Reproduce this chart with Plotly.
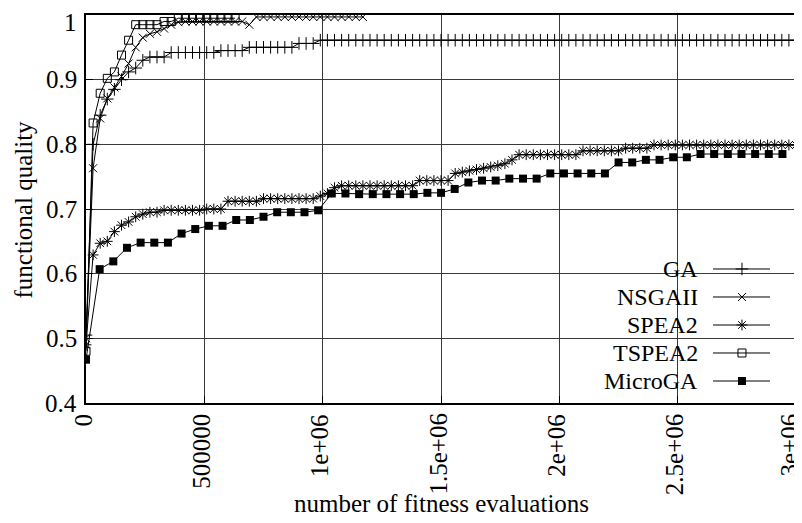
import plotly.graph_objects as go

# ---------------- data ----------------
eval_step = 30000      # sampling interval of GA / NSGAII / SPEA2 / TSPEA2
micro_step = 57700     # sampling interval of MicroGA

ga_y = [0.505, 0.80, 0.845, 0.87, 0.885, 0.90, 0.912, 0.918, 0.93,
        0.935, 0.935, 0.935,
        0.942, 0.942, 0.942, 0.942, 0.942, 0.942, 0.942,
        0.945, 0.945, 0.945, 0.945,
        0.950, 0.950, 0.950, 0.950, 0.950, 0.950, 0.950,
        0.956, 0.956, 0.956,
        0.961, 0.961, 0.961, 0.961, 0.961, 0.961, 0.961, 0.961, 0.961, 0.961,
        0.961, 0.961, 0.961, 0.961, 0.961, 0.961, 0.961, 0.961, 0.961, 0.961,
        0.961, 0.961, 0.961, 0.961, 0.961, 0.961, 0.961, 0.961, 0.961, 0.961,
        0.961, 0.961, 0.961, 0.961, 0.961, 0.961, 0.961, 0.961, 0.961, 0.961,
        0.961, 0.961, 0.961, 0.961, 0.961, 0.961, 0.961, 0.961, 0.961, 0.961,
        0.961, 0.961, 0.961, 0.961, 0.961, 0.961, 0.961, 0.961, 0.961, 0.961,
        0.961, 0.961, 0.961, 0.961, 0.961, 0.961, 0.961, 0.961]

nsga_y = [0.50, 0.763, 0.84, 0.871, 0.888, 0.905, 0.925, 0.95, 0.965, 0.971,
          0.974, 0.979, 0.985, 0.989,
          0.990, 0.990, 0.990, 0.990, 0.990, 0.990, 0.990, 0.990, 0.990,
          0.985,
          0.997, 0.997, 0.997, 0.997, 0.997, 0.997, 0.997, 0.997,
          0.997, 0.997, 0.997, 0.997, 0.997, 0.997, 0.997, 0.997]

spea_y = [0.49, 0.629, 0.647, 0.650, 0.665, 0.675, 0.680, 0.688, 0.692, 0.695,
          0.695,
          0.698, 0.698, 0.698, 0.698, 0.698, 0.698,
          0.700, 0.700, 0.700,
          0.712, 0.712, 0.712, 0.712, 0.712,
          0.716, 0.716, 0.716, 0.716, 0.716, 0.716, 0.716, 0.716,
          0.720, 0.724, 0.733,
          0.736, 0.736, 0.736, 0.736, 0.736, 0.736, 0.736, 0.736, 0.736, 0.736, 0.736,
          0.744, 0.744, 0.744, 0.744, 0.744,
          0.755, 0.757, 0.759, 0.761, 0.763, 0.765, 0.767, 0.770, 0.776,
          0.784, 0.784, 0.784, 0.784, 0.784, 0.784, 0.784, 0.784, 0.784,
          0.790, 0.790, 0.790, 0.790, 0.790, 0.790,
          0.794, 0.794, 0.794, 0.794,
          0.799, 0.799, 0.799, 0.799, 0.799, 0.799, 0.799, 0.799, 0.799, 0.799,
          0.799, 0.799, 0.799, 0.799, 0.799, 0.799, 0.799, 0.799, 0.799, 0.799,
          0.799]

tspea_y = [0.48, 0.833, 0.879, 0.902, 0.912, 0.938, 0.961, 0.985, 0.985, 0.985,
           0.985, 0.990, 0.990,
           0.995, 0.995, 0.995, 0.995, 0.995, 0.995, 0.995, 0.995, 0.995]

micro_y = [0.467, 0.607, 0.619, 0.640, 0.648, 0.648, 0.648, 0.662, 0.669, 0.674,
           0.674, 0.683, 0.683, 0.688, 0.695, 0.695, 0.695, 0.698, 0.724, 0.724,
           0.723, 0.723, 0.723, 0.723, 0.723, 0.725, 0.725, 0.731, 0.741, 0.744,
           0.744, 0.747, 0.747, 0.747, 0.755, 0.755, 0.755, 0.755, 0.755, 0.772,
           0.772, 0.776, 0.776, 0.780, 0.780, 0.785, 0.785, 0.785, 0.785, 0.785,
           0.785, 0.785]

series_names = ["GA", "NSGAII", "SPEA2", "TSPEA2", "MicroGA"]

x_ticks = [0, 500000, 1000000, 1500000, 2000000, 2500000, 3000000]
x_tick_text = ["0", "500000", "1e+06", "1.5e+06", "2e+06", "2.5e+06", "3e+06"]
y_ticks = [0.4, 0.5, 0.6, 0.7, 0.8, 0.9, 1.0]
y_tick_text = ["0.4", "0.5", "0.6", "0.7", "0.8", "0.9", "1"]

# ---------------- styling ----------------
FONT = "Liberation Serif"
FS = 25
FS_KEY = 24
BLACK = "black"

markers = {
    "GA": dict(symbol="cross-thin-open", size=9, color=BLACK, line=dict(width=1, color=BLACK)),
    "NSGAII": dict(symbol="x-thin-open", size=8, color=BLACK, line=dict(width=1, color=BLACK)),
    "SPEA2": dict(symbol="asterisk-open", size=9, color=BLACK, line=dict(width=1, color=BLACK)),
    "TSPEA2": dict(symbol="square-open", size=8, color=BLACK, line=dict(width=1, color=BLACK)),
    "MicroGA": dict(symbol="square", size=8, color=BLACK, line=dict(width=0, color=BLACK)),
}

data = {
    "GA": (ga_y, eval_step),
    "NSGAII": (nsga_y, eval_step),
    "SPEA2": (spea_y, eval_step),
    "TSPEA2": (tspea_y, eval_step),
    "MicroGA": (micro_y, micro_step),
}

fig = go.Figure()
for name in series_names:
    ys, step = data[name]
    xs = [i * step for i in range(len(ys))]
    fig.add_trace(go.Scatter(
        x=xs, y=ys, name=name, mode="lines+markers",
        line=dict(color=BLACK, width=1),
        marker=markers[name], showlegend=False))

# ---------------- gnuplot-style key (text, then sample) ----------------
key_rows = [0.3454, 0.2732, 0.2010, 0.1289, 0.0567]
key_text_x = 0.8648
key_line_x0, key_line_x1, key_mark_x = 0.8831, 0.9634, 0.9239

shapes = [dict(type="rect", xref="paper", yref="paper", x0=0.745, x1=0.9817,
               y0=0.0155, y1=0.3814, fillcolor="white", line=dict(width=0),
               layer="between")]
annotations = []
for name, ry in zip(series_names, key_rows):
    shapes.append(dict(type="line", xref="paper", yref="paper",
                       x0=key_line_x0, x1=key_line_x1, y0=ry, y1=ry,
                       line=dict(color=BLACK, width=1), layer="above"))
    annotations.append(dict(x=key_text_x, y=ry, xref="paper", yref="paper",
                            text=name, showarrow=False, xanchor="right",
                            yanchor="middle",
                            font=dict(family=FONT, size=FS_KEY, color=BLACK)))
    fig.add_trace(go.Scatter(x=[key_mark_x], y=[ry], xaxis="x2", yaxis="y2",
                             mode="markers", marker=markers[name],
                             showlegend=False, hoverinfo="skip"))

# rotated x tick labels (gnuplot style, reading upward)
for tv, tt in zip(x_ticks, x_tick_text):
    annotations.append(dict(x=tv, y=0, xref="x", yref="paper", text=tt,
                            showarrow=False, textangle=-90, xanchor="center",
                            yanchor="top", xshift=-7 if tv == x_ticks[-1] else -3,
                            yshift=-10, borderpad=0,
                            font=dict(family=FONT, size=FS, color=BLACK)))

# y tick labels
for tv, tt in zip(y_ticks, y_tick_text):
    annotations.append(dict(x=0, y=tv, xref="paper", yref="y", text=tt,
                            showarrow=False, xanchor="right", yanchor="middle",
                            xshift=-8, yshift=-7 if tv == y_ticks[-1] else 0,
                            borderpad=0,
                            font=dict(family=FONT, size=FS, color=BLACK)))

# axis titles
annotations.append(dict(x=0.5, y=-0.258, xref="paper", yref="paper",
                        text="number of fitness evaluations", showarrow=False,
                        xanchor="center", yanchor="middle",
                        font=dict(family=FONT, size=FS, color=BLACK)))
annotations.append(dict(x=-0.1085, y=0.5, xref="paper", yref="paper",
                        text="functional quality", showarrow=False, textangle=-90,
                        xanchor="left", yanchor="middle", borderpad=0,
                        font=dict(family=FONT, size=FS, color=BLACK)))

axis_common = dict(
    showgrid=True, gridcolor="#3a3a3a", gridwidth=1,
    showline=True, linecolor=BLACK, linewidth=1.5, mirror=True,
    ticks="inside", ticklen=7, tickcolor=BLACK, tickwidth=1,
    zeroline=False, automargin=False, showticklabels=False,
)

# the page body adds an 8px offset; margins compensate so the plot frame
# lands at x 86..796, y 15..403 in the window
fig.update_layout(
    width=802, height=523,
    margin=dict(l=78, r=14, t=7, b=128, autoexpand=False),
    paper_bgcolor="white", plot_bgcolor="white",
    font=dict(family=FONT, size=FS, color=BLACK),
    xaxis=dict(range=[0, 3000000], tickmode="array", tickvals=x_ticks,
               **axis_common),
    yaxis=dict(range=[0.4, 1.0], tickmode="array", tickvals=y_ticks,
               **axis_common),
    xaxis2=dict(overlaying="x", range=[0, 1], visible=False, anchor="y2"),
    yaxis2=dict(overlaying="y", range=[0, 1], visible=False, anchor="x2"),
    shapes=shapes, annotations=annotations, showlegend=False,
)

fig.write_html("out.html")
